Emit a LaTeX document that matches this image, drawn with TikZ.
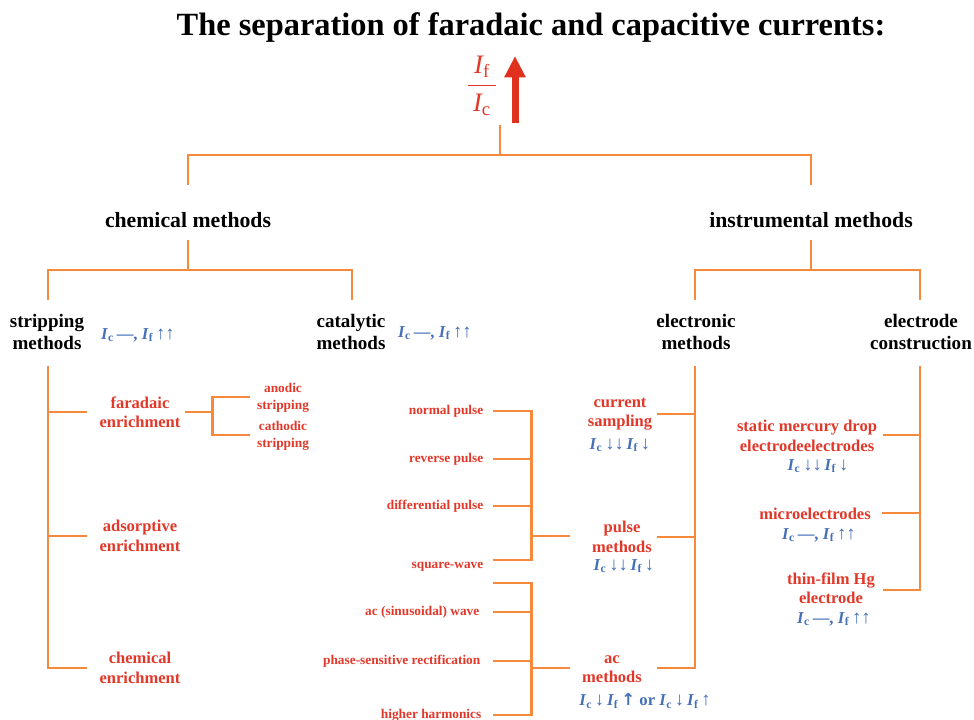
\documentclass[tikz,border=0pt]{standalone}
\usepackage{amsmath}
\usepackage{fontspec}
\setmainfont{Liberation Serif}
\newfontfamily\arrowfont{DejaVu Sans}
\usetikzlibrary{positioning,calc,arrows.meta}
\definecolor{lineor}{HTML}{F68A3C}
\definecolor{labred}{HTML}{E2382A}
\definecolor{curblue}{HTML}{4470B8}
\definecolor{arrred}{HTML}{E0301E}
\newcommand{\Ic}{\textit{I}\textsubscript{c}}
\newcommand{\If}{\textit{I}\textsubscript{f}}
\newcommand{\up}{{\mdseries\fontsize{14}{14}\selectfont ↑}}
\newcommand{\dn}{{\mdseries\fontsize{14}{14}\selectfont ↓}}
\tikzset{
  ln/.style={draw=lineor,line width=2.2pt},
  head/.style={font=\bfseries\fontsize{16.3}{19}\selectfont,align=center},
  sub/.style={font=\bfseries\fontsize{14.3}{16.5}\selectfont,align=center},
  lab/.style={text=labred,font=\bfseries\fontsize{12.4}{14.5}\selectfont,align=center},
  sml/.style={text=labred,font=\bfseries\fontsize{10}{12.75}\selectfont,align=center},
  cur/.style={text=curblue,font=\bfseries\fontsize{12.5}{14}\selectfont}
}

\begin{document}
\begin{tikzpicture}[x=0.75pt,y=-0.75pt]
\useasboundingbox (0,0) rectangle (974,720);
\node[font=\bfseries\fontsize{24.3}{28}\selectfont] (title) at (531,28) {The separation of faradaic and capacitive currents:};
\node[text=labred,font=\fontsize{20}{22}\selectfont] (ratio) at (482,86) {$\dfrac{\,\textit{I}_{\text{f}}\,}{\,\textit{I}_{\text{c}}\,}$};
\coordinate (arrb) at (515,123);
\coordinate (arrt) at (515,56);
\draw[arrred,line width=5.25pt,-{Triangle[width=15pt,length=16pt]}] (arrb) -- (arrt);

% first level
\coordinate (root) at (500,125);
\node[head] (chem) at (188,220) {chemical methods};
\node[head] (instr) at (811,220) {instrumental methods};
\draw[ln] (root) -- ++(0,30) coordinate (j0);
\draw[ln] ($(chem)+(0,-35)$) |- (j0) -| ($(instr)+(0,-35)$);

% chemical methods
\node[sub] (strip) at (47,332) {stripping\\methods};
\node[sub] (catal) at (351,332) {catalytic\\methods};
\node[cur] (stripc) at (138,335) {\Ic\,—,\ \If\,\up\up};
\node[cur] (catalc) at (435,333) {\Ic\,—,\ \If\,\up\up};
\draw[ln] ($(chem)+(0,20)$) -- ++(0,30) coordinate (j1);
\draw[ln] ($(strip)+(1,-32)$) |- (j1) -| ($(catal)+(1,-32)$);

% instrumental methods
\node[sub] (elec) at (696,332) {electronic\\methods};
\node[sub] (cons) at (921,332) {electrode\\construction};
\draw[ln] ($(instr)+(0,20)$) -- ++(0,30) coordinate (j2);
\draw[ln] ($(elec)+(-1,-32)$) |- (j2) -| ($(cons)+(-1,-32)$);

% stripping
\coordinate (sv) at ($(strip)+(1,34)$);
\node[lab] (farad) at (140,412) {faradaic\\enrichment};
\node[lab] (adsor) at (140,536) {adsorptive\\enrichment};
\node[lab] (chemen) at (140,668) {chemical\\enrichment};
\draw[ln] (sv) |- ($(chemen.west)+(-8,0)$);
\draw[ln] (sv |- farad.west) -- ($(farad.west)+(-8,0)$);
\draw[ln] (sv |- adsor.west) -- ($(adsor.west)+(-8,0)$);
\node[sml] (anod) at (283,398) {anodic\\stripping};
\node[sml] (cath) at (283,436) {cathodic\\stripping};
\draw[ln] (farad.east) -- ++(27,0) coordinate (fj);
\draw[ln] ($(anod.west)+(-2,-1)$) -| (fj) |- ($(cath.west)+(-2,-1)$);

% electronic
\coordinate (ev) at ($(elec)+(-1,34)$);
\node[lab] (cursam) at (620,414) {current\\sampling};
\node[cur] (cursamc) at (620,445) {\Ic\,\dn\dn\,\If\,\dn};
\node[lab] (pulse) at (622,537) {pulse\\methods};
\node[cur] (pulsec) at (624,566) {\Ic\,\dn\dn\,\If\,\dn};
\node[lab] (acm) at (612,669) {ac\\methods};
\node[cur] (acmc) at (645,701) {\Ic\,\dn\,\If\,{\arrowfont\bfseries ↑} or \Ic\,\dn\,\If\,\up};
\draw[ln] (ev) |- ($(acm.east)+(10,-1)$);
\draw[ln] (cursam.east) -- (ev |- cursam.east);
\draw[ln] (pulse.east) -- (ev |- pulse.east);

% pulse methods
\draw[ln] ($(pulse.west)+(-17,-1)$) -- ++(-39,0) coordinate (pj);
\node[sml,anchor=east] (npul) at (488,411) {normal pulse};
\node[sml,anchor=east] (rpul) at (488,459) {reverse pulse};
\node[sml,anchor=east] (dpul) at (488,506) {differential pulse};
\node[sml,anchor=east] (sqw) at (488,567) {square-wave};
\draw[ln] ($(npul.east)+(5,0)$) -| (pj) |- ($(sqw.east)+(5,-7)$);
\draw[ln] ($(rpul.east)+(5,0)$) -- (pj |- rpul.east);
\draw[ln] ($(dpul.east)+(5,0)$) -- (pj |- dpul.east);

% ac methods
\draw[ln] ($(acm.west)+(-7,-1)$) -- ++(-39,0) coordinate (aj);
\coordinate (astub) at (493,583);
\node[sml,anchor=east] (sinw) at (484,612) {ac (sinusoidal) wave};
\node[sml,anchor=east] (phase) at (485,661) {phase-sensitive rectification};
\node[sml,anchor=east] (harm) at (486,715) {higher harmonics};
\draw[ln] (astub) -| (aj) |- ($(harm.east)+(7,0)$);
\draw[ln] ($(sinw.east)+(9,0)$) -- (aj |- sinw.east);
\draw[ln] ($(phase.east)+(8,0)$) -- (aj |- phase.east);

% electrode construction
\coordinate (cv) at ($(cons)+(-1,34)$);
\node[lab] (smd) at (807,436) {static mercury drop\\electrodeelectrodes};
\node[cur] (smdc) at (818,466) {\Ic\,\dn\dn\,\If\,\dn};
\node[lab] (micro) at (815,514) {microelectrodes};
\node[cur] (microc) at (819,535) {\Ic\,—,\ \If\,\up\up};
\node[lab] (thin) at (831,588) {thin-film Hg\\electrode};
\node[cur] (thinc) at (834,619) {\Ic\,—,\ \If\,\up\up};
\draw[ln] (cv) |- ($(thin.east)+(3,2)$);
\draw[ln] ($(smd.east)+(1,-1)$) -- (cv |- {$(smd.east)+(1,-1)$});
\draw[ln] ($(micro.east)+(7,-1)$) -- (cv |- {$(micro.east)+(7,-1)$});
\end{tikzpicture}
\end{document}
